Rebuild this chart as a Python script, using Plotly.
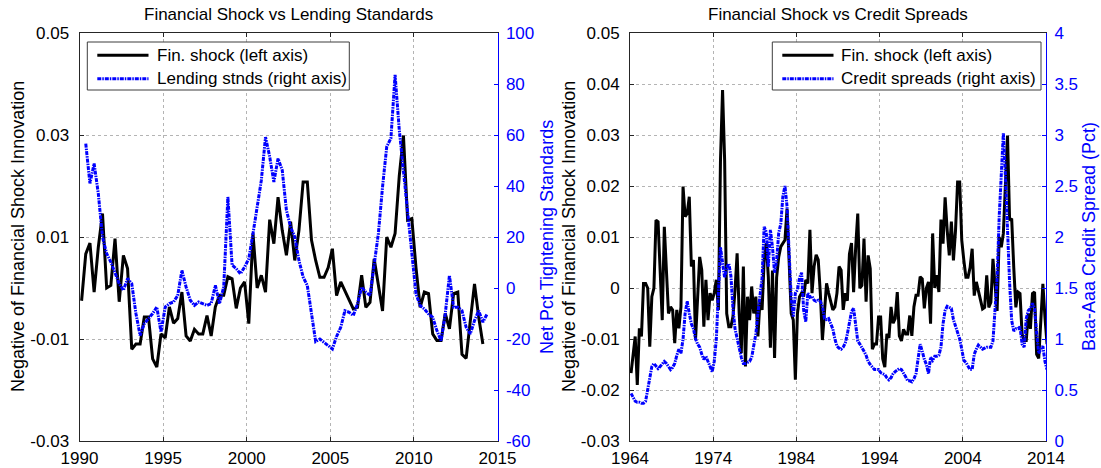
import numpy as np
import plotly.graph_objects as go

# ---------------- data (quarterly, mid-quarter dates) ----------------
# Financial shock innovation (negative), 1990Q1 .. 2014Q1
fin_shock_1990_start = 1990.125
fin_shock_1990 = [
    -0.0025, 0.0067, 0.0088, -0.0008, 0.008, 0.0146, 0.0, 0.0005, 0.0097, -0.0027,
    0.0064, 0.0038, -0.012, -0.011, -0.011, -0.0057, -0.0057, -0.0139, -0.0155, -0.009,
    -0.0098, -0.0037, -0.0069, -0.006, -0.0008, -0.0094, -0.0104, -0.0081, -0.009, -0.009,
    -0.0054, -0.0094, -0.0037, -0.0014, -0.0014, 0.0022, 0.0018, -0.004, 0.0, 0.0012,
    -0.007, 0.0107, 0.0, 0.0025, -0.0008, 0.0134, 0.0087, 0.0178, 0.0113, 0.0064,
    0.013, 0.0054, 0.0113, 0.0208, 0.0208, 0.0094, 0.0054, 0.0021, 0.0021, 0.004,
    0.0077, -0.0015, 0.0012, -0.0005, -0.0025, -0.0041, -0.0038, 0.0025, -0.0038, -0.0028,
    0.0057, 0.0005, -0.0045, 0.01, 0.008, 0.0107, 0.022, 0.0299, 0.0133, 0.0136,
    0.004, -0.0038, -0.0008, -0.0011, -0.009, -0.0103, -0.0103, -0.005, -0.008, -0.0011,
    -0.0008, -0.013, -0.0138, -0.0064, 0.0008, -0.0057, -0.011,
]

# Net percent of banks tightening lending standards, 1990Q2 .. 2014Q2
lending_start = 1990.375
lending_stnds = [
    56.6, 41, 48.8, 37, 20, 13.5, 10.2, 5.6, 1.7, -0.9,
    3.7, 1.7, -10, -18.6, -14, -12, -10, -7.5, -17.3, -7.5,
    -6.1, -5.5, -2.9, 6.9, 0.4, -4.8, -6.8, -5.5, -6.1, -6.8,
    -6.1, 1, -6.1, 0.4, 35.7, 9, 7.6, 5.6, 8.2, 11.5,
    21.3, 31.8, 42.2, 59.2, 51.5, 41.6, 50.8, 46.2, 30.5, 23.9,
    20, 10.8, 4.3, 1, -10.2, -21, -20, -21.3, -22.6, -23.9,
    -19, -15.4, -8.9, -9.5, -10.8, -6.2, 0.3, -1.6, -2.9, 8.2,
    21.3, 39.7, 55.4, 58.7, 83.6, 62, 46.2, 31.8, 14.8, -2.3,
    -6.9, -8.2, -10.2, -11.5, -16.7, -20.7, -10.2, 4.9, -7.5, -7.5,
    -8.9, -15.4, -18, -12.8, -8.9, -13.4, -10.2,
]

# Financial shock innovation (negative), 1964Q1 .. 1989Q4
fin_shock_early_start = 1964.125
fin_shock_pre1990 = [
    -0.0167, -0.0135, -0.0095, -0.019, -0.0079, -0.0095, 0.0009, 0.0009, 0.0, -0.0115,
    -0.0017, 0.0, 0.0133, 0.013, 0.0042, -0.0063, 0.012, 0.0042, -0.005, -0.0037,
    -0.0043, -0.0108, -0.0043, -0.0079, -0.0037, 0.0199, 0.014, 0.0146, 0.0179, 0.0042,
    0.0055, -0.0102, -0.001, 0.0061, 0.0035, -0.0076, 0.0016, -0.0063, -0.001, -0.0024,
    -0.001, 0.0016, -0.0043, 0.025, 0.0388, 0.025, -0.005, -0.0076, -0.0076, -0.0056,
    -0.0004, 0.0068, -0.005, -0.0128, 0.0042, -0.0154, -0.0017, -0.0063, 0.0003, -0.005,
    -0.0017, -0.0095, -0.0024, -0.0043, 0.0055, 0.0088, 0.0022, -0.0117, 0.0034, -0.0137,
    0.0021, 0.0061, 0.0081, 0.0088, 0.0094, 0.0155, 0.0068, -0.005, -0.0063, -0.018,
    -0.005, -0.0017, -0.001, -0.0017, 0.0016, 0.0009, 0.0114, -0.001, 0.0042, 0.0065,
    0.0055, -0.001, -0.0102, -0.0043, 0.0009, -0.001, -0.0024, -0.0043, -0.0037, -0.001,
    0.0042, 0.0035, -0.0043, -0.001,
]

# Baa-Aaa credit spread (pct), 1964Q1 .. 2014Q1
spread_start = 1964.125
credit_spreads = [
    0.467, 0.42, 0.39, 0.38, 0.38, 0.37, 0.37, 0.39, 0.5, 0.65,
    0.73, 0.76, 0.74, 0.71, 0.73, 0.76, 0.78, 0.76, 0.73, 0.7,
    0.72, 0.76, 0.84, 0.9, 0.86, 1.0, 1.25, 1.37, 1.25, 1.15,
    1.1, 1.0, 0.95, 0.92, 0.85, 0.8, 0.83, 0.78, 0.73, 0.68,
    0.78, 1.0, 1.45, 1.9, 1.75, 1.6, 1.7, 1.74, 1.62, 1.3,
    1.1, 1.0, 0.92, 0.82, 0.76, 0.76, 0.77, 0.78, 0.82, 0.95,
    1.05, 1.25, 1.45, 1.6, 2.1, 2.05,
    1.71, 2.07, 1.9, 1.65, 1.77, 2.04, 2.13, 2.4, 2.5, 2.3,
    1.85, 1.4, 1.22, 1.45, 1.48, 1.6, 1.65, 1.28, 1.17, 1.45,
    1.41, 1.42, 1.38, 1.37, 1.38, 1.37, 1.32, 1.2, 1.19, 1.2,
    1.15, 1.1, 1.0, 0.93, 0.91, 0.9, 0.92, 0.96, 1.05, 1.15,
    1.27, 1.3, 1.12, 0.98, 0.95, 0.92, 0.88, 0.84, 0.78, 0.75,
    0.73, 0.7, 0.7, 0.7, 0.67, 0.66, 0.65, 0.62, 0.6, 0.62,
    0.66, 0.68, 0.7, 0.71, 0.7, 0.67, 0.63, 0.59,
    0.59, 0.58, 0.61, 0.66, 0.8, 0.95, 0.88, 0.8, 0.75, 0.66,
    0.82, 0.79, 0.83, 0.83, 0.84, 0.92, 1.15, 1.28, 1.32, 1.31,
    1.3, 1.19, 1.12, 1.07, 1.0, 0.9, 0.79, 0.77, 0.74, 0.7,
    0.7, 0.85, 0.9, 0.94, 0.92, 0.9, 0.91, 0.92, 0.92, 0.92,
    0.98, 1.25, 1.6, 2.2, 2.7, 3.02, 2.6, 1.97, 1.55, 1.18,
    1.08, 1.1, 1.1, 1.12, 0.95, 0.92, 1.2, 1.28, 1.3, 1.35,
    1.3, 1.06, 0.86, 0.9, 0.93, 0.78, 0.7,
]

# series names / tick values / labels
left_names = ["Fin. shock (left axis)", "Lending stnds (right axis)"]
right_names = ["Fin. shock (left axis)", "Credit spreads (right axis)"]
left_x_ticks = [1990, 1995, 2000, 2005, 2010, 2015]
right_x_ticks = [1964, 1974, 1984, 1994, 2004, 2014]
left_shock_ticks = [-0.03, -0.01, 0.01, 0.03, 0.05]
left_shock_labels = ["-0.03", "-0.01", "0.01", "0.03", "0.05"]
lending_ticks = [-60, -40, -20, 0, 20, 40, 60, 80, 100]
lending_labels = ["-60", "-40", "-20", "0", "20", "40", "60", "80", "100"]
right_shock_ticks = [-0.03, -0.02, -0.01, 0, 0.01, 0.02, 0.03, 0.04, 0.05]
right_shock_labels = ["-0.03", "-0.02", "-0.01", "0", "0.01", "0.02", "0.03", "0.04", "0.05"]
spread_ticks = [0, 0.5, 1, 1.5, 2, 2.5, 3, 3.5, 4]
spread_labels = ["0", "0.5", "1", "1.5", "2", "2.5", "3", "3.5", "4"]

# ---------------- derived dates ----------------
def qdates(start, n):
    return start + 0.25 * np.arange(n)

x_fin90 = qdates(fin_shock_1990_start, len(fin_shock_1990))
x_lend = qdates(lending_start, len(lending_stnds))
fin_full = fin_shock_pre1990 + fin_shock_1990
x_fin_full = qdates(fin_shock_early_start, len(fin_full))
x_spread = qdates(spread_start, len(credit_spreads))

# ---------------- figure ----------------
W, H = 1101, 468
FONT = "Liberation Sans, Arial, Helvetica, sans-serif"
BLUE = "#0000ff"
AX = "#262626"
GRID = "#b4b4b4"
DASHDOT = "4px,1px,1.5px,1px"

# plot-area pixel boxes
L0, L1 = 79.5, 497.5
R0, R1 = 630.0, 1046.0
T, B = 33.0, 441.0


def px(x):
    return x / W


def py(y):
    return 1 - y / H


fig = go.Figure()
fig.add_trace(go.Scatter(
    x=x_fin90, y=fin_shock_1990, mode="lines", name=left_names[0],
    line=dict(color="black", width=3), xaxis="x", yaxis="y", showlegend=False))
fig.add_trace(go.Scatter(
    x=x_lend, y=lending_stnds, mode="lines", name=left_names[1],
    line=dict(color=BLUE, width=3, dash=DASHDOT), xaxis="x", yaxis="y2",
    showlegend=False))
fig.add_trace(go.Scatter(
    x=x_fin_full, y=fin_full, mode="lines", name=right_names[0],
    line=dict(color="black", width=3), xaxis="x2", yaxis="y3", showlegend=False))
fig.add_trace(go.Scatter(
    x=x_spread, y=credit_spreads, mode="lines", name=right_names[1],
    line=dict(color=BLUE, width=3, dash=DASHDOT), xaxis="x2", yaxis="y4",
    showlegend=False))

common_x = dict(showline=True, linecolor=AX, linewidth=1, mirror="ticks",
                ticks="inside", ticklen=4, tickcolor=AX, showgrid=True,
                gridcolor=GRID, griddash="dot", gridwidth=1, zeroline=False,
                tickfont=dict(size=17, color="black", family=FONT),
                automargin=False, ticklabelstandoff=2)
common_yl = dict(showline=True, linecolor=AX, linewidth=1, ticks="inside",
                 ticklen=4, tickcolor=AX, showgrid=True, gridcolor=GRID,
                 griddash="dot", gridwidth=1, zeroline=False,
                 tickfont=dict(size=17, color="black", family=FONT),
                 automargin=False, ticklabelstandoff=6)
common_yr = dict(showline=True, linecolor=BLUE, linewidth=1, ticks="inside",
                 ticklen=4, tickcolor=BLUE, showgrid=False, zeroline=False,
                 tickfont=dict(size=17, color=BLUE, family=FONT),
                 automargin=False, side="right", ticklabelstandoff=4)

fig.update_layout(
    width=W, height=H,
    margin=dict(l=0, r=0, t=0, b=0),
    paper_bgcolor="white", plot_bgcolor="white",
    font=dict(family=FONT, color="black"),
    showlegend=False,
    xaxis=dict(domain=[px(L0), px(L1)], range=[1990, 2015], tickvals=left_x_ticks,
               anchor="y", **common_x),
    yaxis=dict(domain=[py(B), py(T)], range=[-0.03, 0.05], tickvals=left_shock_ticks,
               ticktext=left_shock_labels, anchor="x", **common_yl),
    yaxis2=dict(range=[-60, 100], tickvals=lending_ticks, ticktext=lending_labels,
                overlaying="y", anchor="x", **common_yr),
    xaxis2=dict(domain=[px(R0), px(R1)], range=[1964, 2014], tickvals=right_x_ticks,
                anchor="y3", **common_x),
    yaxis3=dict(domain=[py(B), py(T)], range=[-0.03, 0.05], tickvals=right_shock_ticks,
                ticktext=right_shock_labels, anchor="x2", **common_yl),
    yaxis4=dict(range=[0, 4], tickvals=spread_ticks, ticktext=spread_labels,
                overlaying="y3", anchor="x2", **common_yr),
)

annotations = [
    dict(text="Financial Shock vs Lending Standards", x=px((L0 + L1) / 2), y=py(14),
         font=dict(size=17, color="black")),
    dict(text="Financial Shock vs Credit Spreads", x=px((R0 + R1) / 2), y=py(14),
         font=dict(size=17, color="black")),
    dict(text="Negative of Financial Shock Innovation", x=px(18), y=py((T + B) / 2),
         textangle=-90, font=dict(size=18, color="black")),
    dict(text="Net Pct Tightening Standards", x=px(547), y=py((T + B) / 2),
         textangle=-90, font=dict(size=18, color=BLUE)),
    dict(text="Negative of Financial Shock Innovation", x=px(569), y=py((T + B) / 2),
         textangle=-90, font=dict(size=18, color="black")),
    dict(text="Baa-Aaa Credit Spread (Pct)", x=px(1089), y=py((T + B) / 2),
         textangle=-90, font=dict(size=18, color=BLUE)),
]
for a in annotations:
    a.update(xanchor="center", yanchor="middle")

# ---------------- legends (MATLAB-style boxes) ----------------
shapes = []
legend_boxes = [
    # (box left, box right, sample x0, sample x1, text x, names)
    (87.3, 349.3, 97.3, 148.5, 155.0, left_names),
    (772.3, 1041.0, 782.3, 833.5, 839.0, right_names),
]
row_y = [55.3, 78.7]
styles = [dict(color="black", width=3), dict(color=BLUE, width=3, dash=DASHDOT)]
for bl, br, sx0, sx1, tx, names in legend_boxes:
    shapes.append(dict(type="rect", xref="paper", yref="paper",
                       x0=px(bl), x1=px(br), y0=py(90), y1=py(42),
                       line=dict(color="#3c3c3c", width=1), fillcolor="white",
                       layer="above"))
    for ry, st, nm in zip(row_y, styles, names):
        shapes.append(dict(type="line", xref="paper", yref="paper",
                           x0=px(sx0), x1=px(sx1), y0=py(ry), y1=py(ry),
                           line=st, layer="above"))
        annotations.append(dict(text=nm, x=px(tx), y=py(ry), xanchor="left",
                                yanchor="middle", font=dict(size=17, color="black")))

for a in annotations:
    a.update(xref="paper", yref="paper", showarrow=False,
             font=dict(family=FONT, **a["font"]))

fig.update_layout(annotations=annotations, shapes=shapes)

fig.write_html("out.html")
